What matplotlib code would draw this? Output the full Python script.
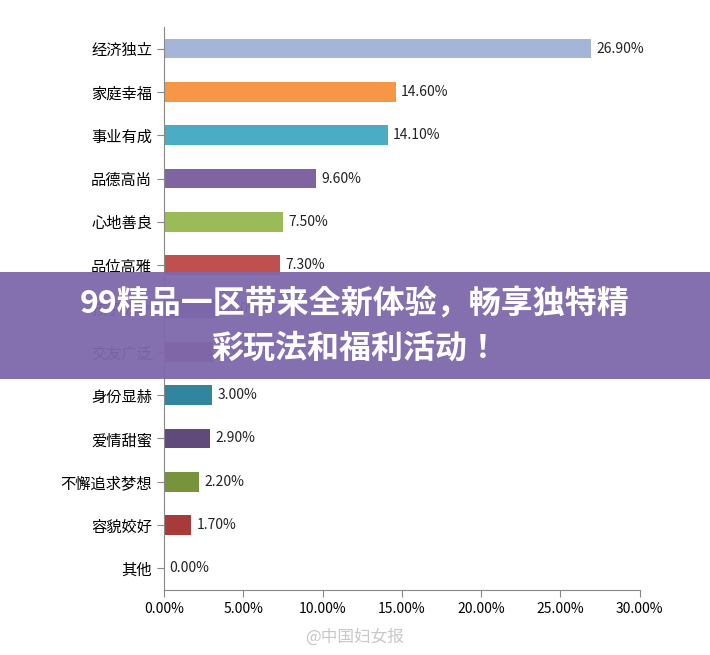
import matplotlib
matplotlib.use("Agg")
import matplotlib.pyplot as plt
from matplotlib import font_manager
from matplotlib.patches import Rectangle

cjk = sorted({f.name for f in font_manager.fontManager.ttflist if "Sans CJK" in f.name})
pick = "Noto Sans CJK SC" if "Noto Sans CJK SC" in cjk else (cjk[0] if cjk else "DejaVu Sans")
plt.rcParams["font.family"] = "sans-serif"
plt.rcParams["font.sans-serif"] = [pick, "DejaVu Sans"]

categories = ["经济独立", "家庭幸福", "事业有成", "品德高尚", "心地善良", "品位高雅", "孩子成才",
              "交友广泛", "身份显赫", "爱情甜蜜", "不懈追求梦想", "容貌姣好", "其他"]
values = [26.9, 14.6, 14.1, 9.6, 7.5, 7.3, 3.3, 3.1, 3.0, 2.9, 2.2, 1.7, 0.0]
colors = ["#a5b5d8", "#f79646", "#4bacc6", "#8064a2", "#9bbb59", "#c0504d", "#4f5fa6",
          "#7b4a6a", "#31859c", "#604a7b", "#77933c", "#a83a3a", "#4f81bd"]
ticks = [0, 5, 10, 15, 20, 25, 30]

fig = plt.figure(figsize=(7.10, 6.55), dpi=100)
ax = fig.add_axes([0.231, 0.099, 0.67, 0.86])
y = list(range(len(categories)))
ax.barh(y, values, height=0.45, color=colors)
for yi, v in zip(y, values):
    ax.text(v + 0.35, yi, f"{v:.2f}%", va="center", ha="left", fontsize=10, color="#222222")
ax.set_yticks(y)
ax.set_yticklabels(categories, fontsize=11)
ax.set_ylim(len(categories) - 0.5, -0.5)
ax.set_xlim(0, 30)
ax.set_xticks(ticks)
ax.set_xticklabels([f"{t:.2f}%" for t in ticks], fontsize=10)
for s in ["top", "right"]:
    ax.spines[s].set_visible(False)
ax.spines["left"].set_color("#888888")
ax.spines["bottom"].set_color("#888888")
ax.tick_params(axis="y", length=5, color="#888888")
ax.tick_params(axis="x", length=5, color="#888888")

# overlay banner
fig.patches.append(Rectangle((0, 0.421), 1, 0.163, transform=fig.transFigure,
                             facecolor="#7f68ab", alpha=0.95, zorder=10))
fig.text(0.5, 0.536, "99精品一区带来全新体验，畅享独特精", ha="center", va="center",
         fontsize=23, fontweight="bold", color="white", zorder=11)
fig.text(0.5, 0.467, "彩玩法和福利活动！", ha="center", va="center",
         fontsize=23, fontweight="bold", color="white", zorder=11)
fig.text(0.43, 0.027, "@中国妇女报", ha="left", va="center", fontsize=12,
         color="#bbbbbb", alpha=0.8, zorder=11)

fig.savefig("out.png", dpi=100)
